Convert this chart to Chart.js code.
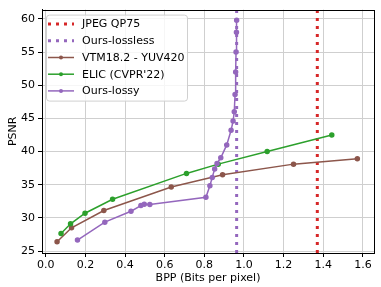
<!DOCTYPE html>
<html>
<head>
<meta charset="utf-8">
<script src="https://cdn.jsdelivr.net/npm/chart.js@4.4.1/dist/chart.umd.min.js"></script>
<style>
  body { margin: 0; background: #fff; }
  canvas { display: block; }
</style>
</head>
<body>
<canvas id="chart" width="381" height="287"></canvas>
<script>
// values
const jpegBpp = 1.37;
const losslessBpp = 0.963;

const vtmBpp = [0.057, 0.13, 0.293, 0.633, 0.892, 1.25, 1.572];
const vtmPsnr = [26.4, 28.5, 31.1, 34.65, 36.5, 38.1, 38.9];

const elicBpp = [0.077, 0.125, 0.198, 0.337, 0.71, 0.87, 1.117, 1.443];
const elicPsnr = [27.65, 29.1, 30.7, 32.8, 36.7, 38.1, 40.0, 42.5];

const lossyBpp = [0.16, 0.298, 0.43, 0.48, 0.497, 0.525, 0.808, 0.828, 0.84, 0.852, 0.864, 0.883, 0.913, 0.935, 0.945, 0.951, 0.955, 0.958, 0.96, 0.962, 0.963];
const lossyPsnr = [26.65, 29.35, 31.0, 31.85, 32.05, 32.0, 33.1, 34.85, 36.1, 37.35, 38.2, 39.06, 41.0, 43.2, 44.6, 46.0, 48.6, 52.0, 55.0, 58.0, 59.8];

const xTicks = [0.0, 0.2, 0.4, 0.6, 0.8, 1.0, 1.2, 1.4, 1.6];
const yTicks = [25, 30, 35, 40, 45, 50, 55, 60];

const xMin = -0.019, xMax = 1.656;
const yMin = 24.7, yMax = 61.4;

const font = "'DejaVu Sans', sans-serif";

function pts(xs, ys) {
    return xs.map((x, i) => ({ x: x, y: ys[i] }));
}

const datasets = [
    {
        label: 'JPEG QP75',
        data: [{ x: jpegBpp, y: yMin }, { x: jpegBpp, y: yMax }],
        borderColor: '#d62728',
        borderWidth: 3,
        borderDash: [3, 5],
        pointRadius: 0,
        order: 5
    },
    {
        label: 'Ours-lossless',
        data: [{ x: losslessBpp, y: yMin }, { x: losslessBpp, y: yMax }],
        borderColor: '#9467bd',
        borderWidth: 3,
        borderDash: [3, 5],
        pointRadius: 0,
        order: 4
    },
    {
        label: 'VTM18.2 - YUV420',
        data: pts(vtmBpp, vtmPsnr),
        borderColor: '#8c564b',
        backgroundColor: '#8c564b',
        borderWidth: 1.5,
        pointRadius: 2,
        order: 3
    },
    {
        label: "ELIC (CVPR'22)",
        data: pts(elicBpp, elicPsnr),
        borderColor: '#2ca02c',
        backgroundColor: '#2ca02c',
        borderWidth: 1.5,
        pointRadius: 2,
        order: 2
    },
    {
        label: 'Ours-lossy',
        data: pts(lossyBpp, lossyPsnr),
        borderColor: '#9467bd',
        backgroundColor: '#9467bd',
        borderWidth: 1.5,
        pointRadius: 2,
        order: 1
    }
];

// black frame around the plot area and a matplotlib style legend box
const framePlugin = {
    id: 'frame',
    afterDraw(chart) {
        const c = chart.ctx;
        const a = chart.chartArea;
        c.save();
        c.strokeStyle = '#000';
        c.lineWidth = 1;
        c.strokeRect(Math.round(a.left) + 0.5, Math.round(a.top) + 0.5,
            Math.round(a.right - a.left), Math.round(a.bottom - a.top));

        // legend
        const lx = a.left + 4, ly = a.top + 5, lw = 141, lh = 86;
        c.beginPath();
        c.roundRect(lx + 0.5, ly + 0.5, lw, lh, 3);
        c.fillStyle = 'rgba(255,255,255,0.8)';
        c.fill();
        c.strokeStyle = '#d0d0d0';
        c.lineWidth = 1;
        c.stroke();

        c.font = '11px ' + font;
        c.textBaseline = 'middle';
        chart.data.datasets.forEach((ds, i) => {
            const y = ly + 9.5 + i * 16.7;
            const x0 = lx + 2, x1 = lx + 28;
            c.strokeStyle = ds.borderColor;
            c.lineWidth = ds.borderWidth;
            c.setLineDash(ds.borderDash || []);
            c.beginPath();
            c.moveTo(x0, y);
            c.lineTo(x1, y);
            c.stroke();
            c.setLineDash([]);
            if (ds.pointRadius) {
                c.fillStyle = ds.borderColor;
                c.beginPath();
                c.arc((x0 + x1) / 2, y, 2, 0, Math.PI * 2);
                c.fill();
            }
            c.fillStyle = '#000';
            c.fillText(ds.label, lx + 36, y + 0.5);
        });
        c.restore();
    }
};

new Chart(document.getElementById('chart'), {
    type: 'scatter',
    data: { datasets: datasets.map(d => Object.assign({ showLine: true, tension: 0 }, d)) },
    plugins: [framePlugin],
    options: {
        responsive: false,
        animation: false,
        layout: { padding: { top: 4, right: 7, left: 0, bottom: 0 } },
        plugins: {
            legend: { display: false },
            tooltip: { enabled: false }
        },
        scales: {
            x: {
                type: 'linear',
                min: xMin,
                max: xMax,
                afterBuildTicks: s => { s.ticks = xTicks.map(v => ({ value: v })); },
                afterFit: s => { s.height = 34; },
                grid: { color: '#cfcfcf', lineWidth: 1, tickLength: 4, tickColor: '#000' },
                border: { color: '#000', width: 1 },
                ticks: {
                    color: '#000',
                    padding: 2,
                    maxRotation: 0,
                    font: { family: font, size: 11 },
                    callback: v => v.toFixed(1)
                },
                title: {
                    display: true,
                    text: 'BPP (Bits per pixel)',
                    color: '#000',
                    font: { family: font, size: 11 },
                    padding: { top: 0, bottom: 2 }
                }
            },
            y: {
                type: 'linear',
                min: yMin,
                max: yMax,
                afterBuildTicks: s => { s.ticks = yTicks.map(v => ({ value: v })); },
                afterFit: s => { s.width = 42; },
                grid: { color: '#cfcfcf', lineWidth: 1, tickLength: 4, tickColor: '#000' },
                border: { color: '#000', width: 1 },
                ticks: {
                    color: '#000',
                    padding: 3,
                    font: { family: font, size: 11 },
                    callback: v => String(v)
                },
                title: {
                    display: true,
                    text: 'PSNR',
                    color: '#000',
                    font: { family: font, size: 11 },
                    padding: { top: 7, bottom: 0 }
                }
            }
        }
    }
});
</script>
</body>
</html>
